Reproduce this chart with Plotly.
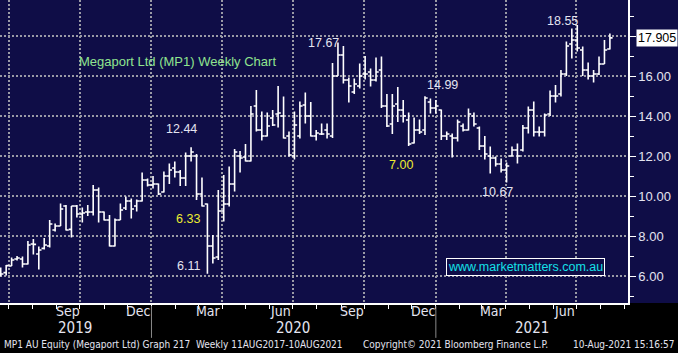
import pandas as pd
import plotly.graph_objects as go

# ---------------- data ----------------
first_week = "2019-06-21"
n_weeks = 113
dates = pd.date_range(first_week, periods=n_weeks, freq="7D")

opens = [6.30, 6.17, 6.50, 6.85, 6.85, 6.60, 7.60, 7.10, 7.38, 7.50,
         8.30, 8.50, 9.50, 8.33, 9.50, 9.10, 9.20, 9.20, 10.30, 9.20,
         8.80, 7.50, 8.80, 9.40, 9.75, 9.50, 9.75, 10.80, 10.55, 10.60,
         10.20, 11.00, 11.40, 11.20, 10.90, 12.00, 12.00, 10.10, 9.60, 7.50,
         6.95, 9.25, 9.60, 10.60, 12.00, 11.95, 11.75, 14.50, 13.30, 13.00,
         13.90, 14.10, 14.00, 13.00, 12.00, 13.00, 14.55, 14.00, 13.00, 13.10,
         13.30, 13.00, 16.00, 17.05, 15.80, 15.20, 15.50, 16.10, 16.20, 15.80,
         16.30, 14.50, 13.60, 14.60, 14.30, 13.80, 12.65, 13.30, 13.30, 14.70,
         14.40, 14.30, 13.00, 13.00, 12.90, 13.50, 13.30, 14.00, 13.40, 12.50,
         12.00, 11.90, 11.60, 11.30, 12.00, 12.30, 12.30, 13.40, 14.30, 13.20,
         13.20, 14.10, 15.00, 15.10, 16.10, 17.60, 17.80, 17.30, 16.30, 16.00,
         16.10, 16.60, 17.35]
highs = [6.43, 6.55, 6.92, 7.00, 6.97, 7.75, 7.85, 7.47, 7.90, 8.80,
         8.63, 9.63, 9.55, 9.50, 9.55, 9.43, 9.55, 10.55, 10.43, 9.22,
         9.05, 8.88, 9.63, 9.97, 9.88, 9.83, 11.17, 10.88, 11.00, 10.63,
         11.22, 11.63, 11.72, 11.30, 12.17, 12.44, 12.10, 10.93, 9.63, 8.05,
         10.30, 11.05, 11.47, 12.35, 12.25, 12.60, 14.50, 15.30, 14.22, 14.17,
         14.30, 15.50, 14.97, 13.22, 14.22, 14.72, 15.17, 14.70, 13.30, 13.63,
         13.63, 16.65, 17.67, 17.50, 15.93, 15.88, 16.63, 17.00, 16.38, 16.93,
         16.97, 15.10, 15.10, 15.45, 14.80, 14.17, 13.93, 13.83, 14.99, 14.88,
         14.80, 14.33, 13.22, 13.13, 13.83, 13.63, 14.38, 14.17, 13.47, 13.00,
         12.47, 11.97, 11.88, 11.67, 12.47, 12.63, 13.55, 14.47, 14.72, 13.47,
         14.13, 15.27, 15.55, 16.30, 17.72, 18.38, 18.55, 17.47, 16.67, 16.30,
         16.97, 17.80, 18.13]
lows = [5.97, 6.02, 6.50, 6.77, 6.43, 6.58, 7.08, 6.33, 7.33, 7.43,
        8.22, 8.50, 8.27, 7.93, 8.93, 8.67, 9.00, 9.02, 8.67, 8.77,
        7.47, 7.47, 8.80, 9.30, 8.88, 9.22, 9.72, 10.47, 10.38, 10.05,
        10.17, 10.60, 10.93, 10.50, 10.50, 11.72, 9.80, 9.47, 6.11, 6.63,
        6.80, 8.72, 9.47, 10.22, 11.17, 11.72, 11.72, 13.22, 12.77, 12.97,
        13.50, 13.43, 12.88, 11.97, 11.83, 12.88, 13.63, 12.97, 12.77, 13.05,
        12.88, 12.90, 16.00, 15.63, 14.67, 15.10, 15.38, 15.83, 15.47, 15.72,
        14.40, 13.45, 13.10, 13.70, 13.67, 12.50, 12.63, 13.10, 13.05, 14.13,
        14.13, 12.80, 12.80, 11.93, 12.72, 13.22, 13.27, 13.47, 12.30, 11.83,
        11.13, 11.47, 11.17, 10.67, 11.97, 11.63, 12.22, 13.13, 12.97, 12.97,
        12.97, 14.00, 14.67, 14.97, 16.00, 16.88, 17.22, 16.00, 15.83, 15.67,
        16.05, 16.60, 17.33]
closes = [6.10, 6.52, 6.80, 6.90, 6.60, 7.55, 7.58, 7.30, 7.55, 8.60,
          8.50, 9.35, 8.30, 9.50, 9.10, 9.15, 9.20, 10.30, 9.20, 8.80,
          7.50, 8.80, 9.30, 9.75, 9.35, 9.75, 10.80, 10.55, 10.60, 10.10,
          11.00, 11.30, 11.20, 10.90, 12.00, 12.20, 10.10, 9.50, 7.50, 6.90,
          9.25, 9.60, 10.60, 12.20, 11.90, 11.75, 14.10, 13.30, 13.00, 13.50,
          13.55, 14.15, 12.90, 12.05, 13.55, 14.50, 14.00, 13.00, 13.15, 13.10,
          13.10, 16.00, 17.05, 15.80, 15.50, 15.60, 16.00, 16.10, 15.80, 16.20,
          14.50, 13.50, 14.50, 14.30, 14.00, 12.60, 13.30, 13.20, 14.90, 14.40,
          14.50, 13.00, 13.10, 12.90, 13.70, 13.30, 14.10, 13.60, 12.50, 12.10,
          11.90, 11.60, 11.30, 11.50, 12.30, 12.00, 13.40, 14.30, 13.20, 13.20,
          14.05, 15.00, 15.00, 16.10, 17.50, 17.80, 17.40, 16.30, 16.00, 16.10,
          16.60, 17.30, 17.905]

last_price = 17.905
price_ticks = [6, 8, 10, 12, 14, 16, 18]
price_tick_text = ["6.00", "8.00", "10.00", "12.00", "14.00", "16.00", ""]
minor_price_ticks = [5, 7, 9, 11, 13, 15, 17, 19]
quarter_starts = ["2019-07-01", "2019-10-01", "2020-01-01", "2020-04-01",
                  "2020-07-01", "2020-10-01", "2021-01-01", "2021-04-01",
                  "2021-07-01"]
month_labels = ["Sep", "Dec", "Mar", "Jun", "Sep", "Dec", "Mar", "Jun"]
month_label_dates = ["2019-09-15", "2019-12-15", "2020-03-15", "2020-06-15",
                     "2020-09-15", "2020-12-15", "2021-03-15", "2021-06-15"]
year_labels = ["2019", "2020", "2021"]
year_label_dates = ["2019-09-25", "2020-07-01", "2021-05-05"]
year_breaks = ["2020-01-01", "2021-01-01"]

# price call-outs: (text, px-x, px-y, colour)
callouts = [("17.67", 323, 43, "w"), ("12.44", 181, 129, "w"),
            ("6.33", 188, 219, "y"), ("6.11", 188, 266, "w"),
            ("7.00", 401, 165, "y"), ("14.99", 442.5, 85, "w"),
            ("10.67", 497.5, 192, "w"), ("18.55", 562.5, 21, "w")]

# ---------------- styling ----------------
NAVY = "#0f0d47"
GRID = "#9a9aa6"
WHITE = "#ffffff"
LABEL = "#e4e4f0"
YELLOW = "#ecec30"
GREEN = "#8fe48f"
CYAN = "#14e0e8"
FONT = "Liberation Sans, Arial, sans-serif"
NARROW = "Liberation Sans Narrow, Arial Narrow, DejaVu Sans Condensed, sans-serif"
PW, PH = 628, 303

fig = go.Figure()
fig.add_trace(go.Ohlc(
    x=dates, open=opens, high=highs, low=lows, close=closes,
    increasing=dict(line=dict(color=WHITE, width=1.6)),
    decreasing=dict(line=dict(color=WHITE, width=1.6)),
    tickwidth=0.5, hoverinfo="skip", showlegend=False))

# right-axis arrow markers
fig.add_trace(go.Scatter(
    x=[632.5] * 6, y=price_ticks[:6], xaxis="x2", yaxis="y", mode="markers",
    marker=dict(symbol="triangle-right", size=7, color=WHITE),
    cliponaxis=False, hoverinfo="skip", showlegend=False))
fig.add_trace(go.Scatter(
    x=[633.5], y=[last_price], xaxis="x2", yaxis="y", mode="markers",
    marker=dict(symbol="triangle-left", size=10, color=WHITE),
    cliponaxis=False, hoverinfo="skip", showlegend=False))

ann = []
ann.append(dict(x=1, xref="paper", y=last_price, yref="y", xanchor="left",
                xshift=8, text="17.905", showarrow=False, bgcolor=WHITE,
                borderpad=1, font=dict(family=FONT, size=12.5, color="#000000")))
ann.append(dict(x=177 / PW, y=1 - 61 / PH, xref="paper", yref="paper",
                xanchor="center", yanchor="middle",
                text="Megaport Ltd (MP1) Weekly Chart", showarrow=False,
                font=dict(family=FONT, size=13, color=GREEN)))
for t, px, py, c in callouts:
    ann.append(dict(x=px / PW, y=1 - py / PH, xref="paper", yref="paper",
                    xanchor="center", yanchor="middle",
                    text=t, showarrow=False,
                    font=dict(family=FONT, size=12.5,
                              color=YELLOW if c == "y" else LABEL)))
ann.append(dict(x=525 / PW, y=1 - 267 / PH, xref="paper", yref="paper",
                xanchor="center", yanchor="middle",
                text="www.marketmatters.com.au", showarrow=False,
                bordercolor=WHITE, borderwidth=1, borderpad=1, bgcolor=NAVY,
                font=dict(family=FONT, size=12.5, color=CYAN)))
for t, d in zip(month_labels, month_label_dates):
    ann.append(dict(x=d, xref="x", y=1 - 311 / PH, yref="paper", text=t,
                    showarrow=False, xanchor="center", yanchor="middle",
                    font=dict(family=NARROW, size=14, color=LABEL)))
for t, d in zip(year_labels, year_label_dates):
    ann.append(dict(x=d, xref="x", y=1 - 328 / PH, yref="paper", text=t,
                    showarrow=False, xanchor="center", yanchor="middle",
                    font=dict(family=NARROW, size=15, color=LABEL)))
foot = dict(family=NARROW, size=10, color=LABEL)
ann.append(dict(x=2 / PW, y=1 - 345 / PH, xref="paper", yref="paper",
                xanchor="left", yanchor="middle", showarrow=False, font=foot,
                text="MP1 AU Equity (Megaport Ltd) Graph 217\u00a0\u00a0Weekly 11AUG2017-10AUG2021"))
ann.append(dict(x=361 / PW, y=1 - 345 / PH, xref="paper", yref="paper",
                xanchor="left", yanchor="middle", showarrow=False, font=foot,
                text="Copyright\u00a9 2021 Bloomberg Finance L.P."))
ann.append(dict(x=676 / PW, y=1 - 345 / PH, xref="paper", yref="paper",
                xanchor="right", yanchor="middle", showarrow=False, font=foot,
                text="10-Aug-2021 15:16:57"))

shapes = [dict(type="rect", xref="paper", yref="paper", x0=-0.02, x1=1.1,
               y0=0, y1=-0.2, fillcolor="#000000", line=dict(width=0),
               layer="below")]
for d in year_breaks:
    shapes.append(dict(type="line", xref="x", yref="paper", x0=d, x1=d,
                       y0=-0.01, y1=-0.115, line=dict(color="#8a8a8a", width=1)))

grid = dict(showgrid=True, gridcolor=GRID, gridwidth=2, griddash="2px,2px")

fig.update_layout(
    width=678, height=353,
    margin=dict(l=0, r=50, t=0, b=50),
    paper_bgcolor=NAVY, plot_bgcolor=NAVY,
    showlegend=False, hovermode=False,
    annotations=ann, shapes=shapes,
    xaxis=dict(type="date", range=["2019-06-20 01:30", "2021-09-05 07:00"],
               tickmode="array", tickvals=quarter_starts, showticklabels=False,
               ticks="outside", ticklen=4, tickcolor=WHITE, tickwidth=1,
               showline=True, linecolor=WHITE, linewidth=1.5, zeroline=False,
               rangeslider=dict(visible=False),
               minor=dict(ticks="outside", ticklen=4, tickcolor=WHITE,
                          dtick="M1", tick0="2019-07-01", showgrid=False),
               **grid),
    xaxis2=dict(overlaying="x", range=[0, PW], visible=False),
    yaxis=dict(side="right", range=[4.65, 19.8], tickmode="array",
               tickvals=price_ticks, ticktext=price_tick_text,
               ticks="outside", ticklen=6, tickcolor=WHITE,
               tickfont=dict(family=FONT, size=13, color=LABEL),
               showline=True, linecolor=WHITE, linewidth=1.5, zeroline=False,
               minor=dict(tickmode="array", tickvals=minor_price_ticks,
                          ticks="outside", ticklen=4, tickcolor=WHITE,
                          showgrid=False),
               **grid),
)

fig.write_html("out.html")
